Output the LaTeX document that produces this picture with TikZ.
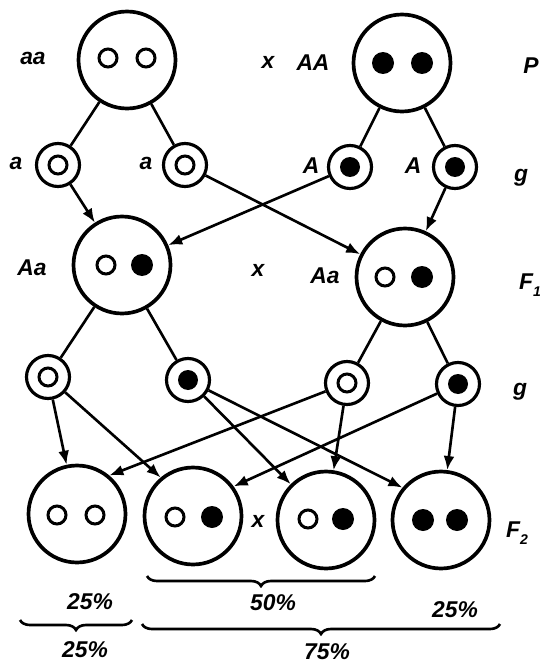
\documentclass[tikz,border=0pt]{standalone}
\usepackage{fontspec}
\setsansfont{Liberation Sans}
\usetikzlibrary{
	arrows.meta,
	decorations.pathreplacing,
	positioning
}

\begin{document}
\begin{tikzpicture}[x=0.02cm, y=-0.02cm,
		cell/.style={circle, draw, line width=2.1pt, minimum size=1.94cm, inner sep=0pt},
		gamete/.style={circle, draw, line width=1.8pt, minimum size=0.86cm, inner sep=0pt},
		reces/.style={circle, draw, line width=1.7pt, minimum size=0.36cm, inner sep=0pt},
		domi/.style={circle, fill, minimum size=0.44cm, inner sep=0pt},
		gdomi/.style={circle, fill, minimum size=0.4cm, inner sep=0pt},
		lbl/.style={font=\sffamily\bfseries\itshape\fontsize{13}{15}\selectfont, inner sep=1pt},
		link/.style={line width=1.5pt},
		arr/.style={line width=1.5pt, -{Latex[length=2.8mm, width=2.2mm]}},
		ratio/.style={decorate, decoration={brace, mirror, amplitude=2mm}, line width=1.5pt}
	]
	\useasboundingbox (0,0) rectangle (540,666);
	
	\node[cell] (P1) at (127,60) {};
	\node[cell] (P2) at (402,63) {};
	\node[reces] (P1a) at (108,58) {};
	\node[reces] (P1b) at (146,58) {};
	\node[domi] (P2a) at (383,63) {};
	\node[domi] (P2b) at (422,63) {};
	
	\node[lbl] (laa) at (33,58) {aa};
	\node[lbl] (lx1) at (268,62) {x};
	\node[lbl] (lAA) at (313,63) {AA};
	\node[lbl] (lP) at (531,66) {P};
	
	\foreach \n/\x/\y in {g1/58/165, g2/185/165, g3/350/167, g4/455/167}
		\node[gamete] (\n) at (\x,\y) {};
	\node[reces] (g1i) at (g1) {};
	\node[reces] (g2i) at (g2) {};
	\node[gdomi] (g3i) at (g3) {};
	\node[gdomi] (g4i) at (g4) {};
	
	\node[lbl] (lg1) at (16,163) {a};
	\node[lbl] (lg2) at (146,163) {a};
	\node[lbl] (lg3) at (311,166) {A};
	\node[lbl] (lg4) at (413,166) {A};
	\node[lbl] (lgP) at (521,178) {g};
	
	\draw[link] (P1) -- (g1);
	\draw[link] (P1) -- (g2);
	\draw[link] (P2) -- (g3);
	\draw[link] (P2) -- (g4);
	
	\node[cell] (Fl) at (122,265) {};
	\node[cell] (Fr) at (405,277) {};
	\node[reces] (Fla) at (106,265) {};
	\node[domi] (Flb) at (142,265) {};
	\node[reces] (Fra) at (385,277) {};
	\node[domi] (Frb) at (422,277) {};
	
	\node[lbl] (lAa1) at (32,268) {Aa};
	\node[lbl] (lx2) at (258,270) {x};
	\node[lbl] (lAa2) at (325,276) {Aa};
	\node[lbl] (lF1) at (530,282) {F\smash{\raisebox{-0.55ex}{\footnotesize 1}}};
	
	\draw[arr] (g1) -- (Fl);
	\draw[arr] (g2) -- (Fr);
	\draw[arr] (g3) -- (Fl);
	\draw[arr] (g4) -- (Fr);
	
	\foreach \n/\x/\y in {h1/48/377, h2/188/380, h3/347/383, h4/458/384}
		\node[gamete] (\n) at (\x,\y) {};
	\node[reces] (h1i) at (h1) {};
	\node[gdomi] (h2i) at (h2) {};
	\node[reces] (h3i) at (h3) {};
	\node[gdomi] (h4i) at (h4) {};
	\node[lbl] (lgF) at (520,392) {g};
	
	\draw[link] (Fl) -- (h1);
	\draw[link] (Fl) -- (h2);
	\draw[link] (Fr) -- (h3);
	\draw[link] (Fr) -- (h4);
	
	\foreach \n/\x/\y in {Fa/77/514, Fb/193/516, Fc/326/520, Fd/441/520}
		\node[cell] (\n) at (\x,\y) {};
	\node[reces] (Faa) at (57,515) {};
	\node[reces] (Fab) at (95,515) {};
	\node[reces] (Fba) at (175,517) {};
	\node[domi] (Fbb) at (212,517) {};
	\node[reces] (Fca) at (308,519) {};
	\node[domi] (Fcb) at (343,519) {};
	\node[domi] (Fda) at (423,520) {};
	\node[domi] (Fdb) at (457,520) {};
	
	\node[lbl] (lx3) at (258,521) {x};
	\node[lbl] (lF2) at (517,530) {F\smash{\raisebox{-0.55ex}{\footnotesize 2}}};
	
	\draw[arr] (h1) -- (Fa);
	\draw[arr] (h1) -- (Fb.130);
	\draw[arr] (h2) -- (Fc);
	\draw[arr] (h2) -- (Fd.140);
	\draw[arr] (h3) -- (Fa.50);
	\draw[arr] (h3) -- (Fc);
	\draw[arr] (h4) -- (Fb.36);
	\draw[arr] (h4) -- (Fd);
	
	\coordinate (b1s) at (147,576);
	\coordinate (b1e) at (375,576);
	\coordinate (b2s) at (20,620);
	\coordinate (b2e) at (132,620);
	\coordinate (b3s) at (142,624);
	\coordinate (b3e) at (500,624);
	\draw[ratio] (b1s) -- (b1e);
	\draw[ratio] (b2s) -- (b2e);
	\draw[ratio] (b3s) -- (b3e);
	
	\node[lbl] (p1) at (90,602) {25\%};
	\node[lbl] (p2) at (273,603) {50\%};
	\node[lbl] (p3) at (455,610) {25\%};
	\node[lbl] (p4) at (85,650) {25\%};
	\node[lbl] (p5) at (327,652) {75\%};
\end{tikzpicture}
\end{document}
